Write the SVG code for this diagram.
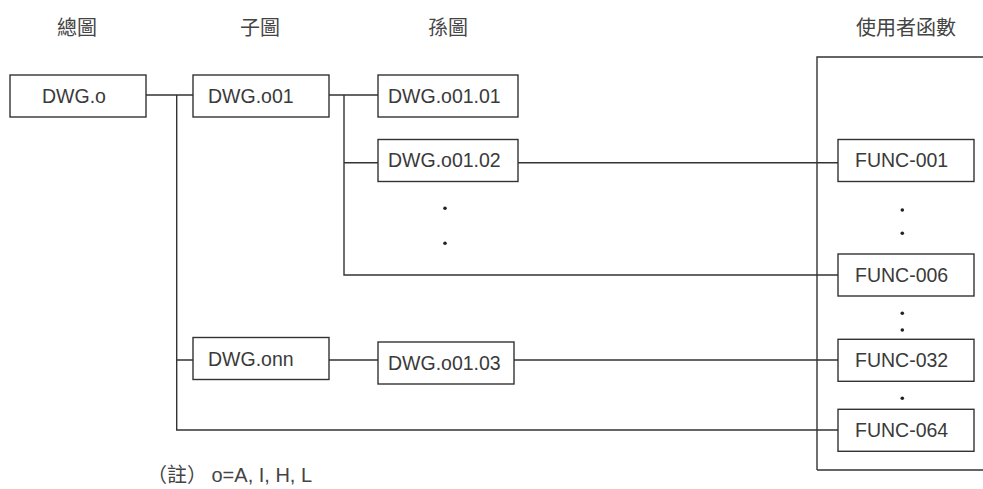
<svg xmlns="http://www.w3.org/2000/svg" width="983" height="489" viewBox="0 0 983 489">
<style>
.box{fill:#fff;stroke:#333;stroke-width:1.4}
.ln{fill:none;stroke:#333;stroke-width:1.4}
.t{font-family:"Liberation Sans",Arial,sans-serif;font-size:19.5px;fill:#3a3a3a}
.h{font-family:"Noto Sans CJK TC","Noto Sans CJK SC",sans-serif;font-size:20px;fill:#444}
.dot{fill:#222}
</style>
<rect width="983" height="489" fill="#fff"/>
<g id="headers">
<text class="h" x="77" y="35" text-anchor="middle">總圖</text>
<text class="h" x="260" y="35" text-anchor="middle">子圖</text>
<text class="h" x="448" y="35" text-anchor="middle">孫圖</text>
<text class="h" x="906" y="35" text-anchor="middle">使用者函數</text>
</g>
<g id="connectors">
<path class="ln" d="M817,470 V57 H983 M817,470 H983"/>
<path class="ln" d="M146,95 H193 M176.7,95 V430 H838"/>
<path class="ln" d="M329,95 H378 M344,95 V275 H838 M344,162.7 H378"/>
<path class="ln" d="M518,162.7 H838"/>
<path class="ln" d="M176.7,360 H193 M329,360 H378 M514,360 H838"/>
</g>
<g id="dots">
<circle class="dot" cx="445" cy="208.3" r="1.8"/>
<circle class="dot" cx="445" cy="243.3" r="1.8"/>
<circle class="dot" cx="902.3" cy="210" r="1.8"/>
<circle class="dot" cx="902.3" cy="233.3" r="1.8"/>
<circle class="dot" cx="902.3" cy="313.3" r="1.8"/>
<circle class="dot" cx="902.3" cy="330" r="1.8"/>
<circle class="dot" cx="902.3" cy="398.3" r="1.8"/>
</g>
<g id="n-dwg-o"><rect class="box" x="10" y="75" width="136" height="42"/><text class="t" x="42" y="103">DWG.o</text></g>
<g id="n-dwg-o01"><rect class="box" x="193" y="75" width="136" height="42"/><text class="t" x="208" y="103">DWG.o01</text></g>
<g id="n-dwg-o01-01"><rect class="box" x="378" y="75" width="140" height="42"/><text class="t" x="388" y="103">DWG.o01.01</text></g>
<g id="n-dwg-o01-02"><rect class="box" x="378" y="139.5" width="140" height="42"/><text class="t" x="388" y="167">DWG.o01.02</text></g>
<g id="n-dwg-onn"><rect class="box" x="193" y="337.5" width="136" height="42"/><text class="t" x="208" y="365.5">DWG.onn</text></g>
<g id="n-dwg-o01-03"><rect class="box" x="378" y="342" width="136" height="42"/><text class="t" x="388" y="370">DWG.o01.03</text></g>
<g id="n-func-001"><rect class="box" x="838" y="139.5" width="136" height="42"/><text class="t" x="855" y="167">FUNC-001</text></g>
<g id="n-func-006"><rect class="box" x="838" y="254" width="136" height="42"/><text class="t" x="855" y="281.5">FUNC-006</text></g>
<g id="n-func-032"><rect class="box" x="838" y="339.3" width="136" height="42"/><text class="t" x="855" y="367">FUNC-032</text></g>
<g id="n-func-064"><rect class="box" x="838" y="409.3" width="136" height="42"/><text class="t" x="855" y="437">FUNC-064</text></g>
<g id="note"><text class="h" x="147" y="482" font-size="19">（註） <tspan font-family="Liberation Sans, Arial, sans-serif">o=A, I, H, L</tspan></text></g>
</svg>
